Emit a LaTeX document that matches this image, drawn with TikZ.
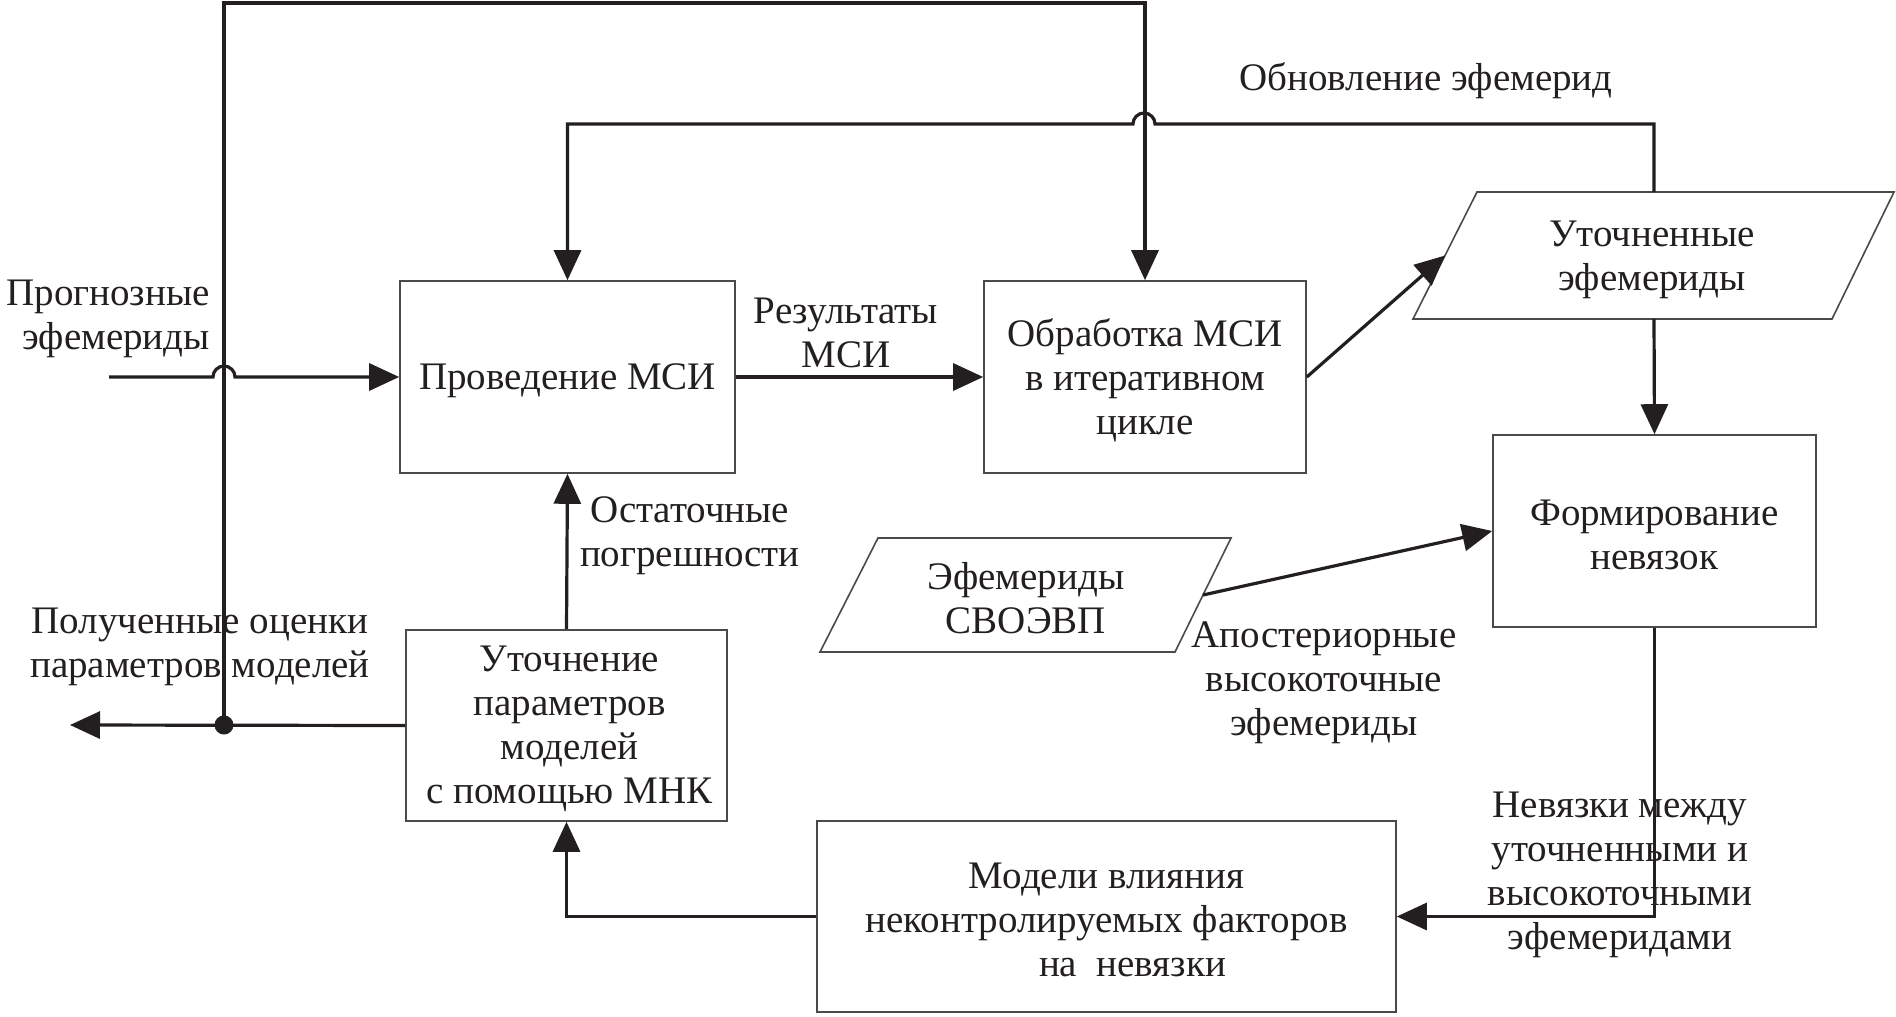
\documentclass[tikz,border=0pt]{standalone}
\usepackage{fontspec}
\setmainfont{Liberation Serif}
\usetikzlibrary{arrows.meta,calc}
\definecolor{ink}{HTML}{231F20}
\definecolor{boxgray}{HTML}{4A4A4A}
\newcommand\fsz{\fontsize{39pt}{44pt}\selectfont}
\tikzset{
  box/.style={draw=boxgray, line width=1.6pt, inner sep=0pt},
  para/.style={draw=boxgray, line width=1.6pt},
  wire/.style={line width=3.2pt, draw=ink},
  arr/.style={wire, -{Triangle[length=30pt,width=27pt]}},
  lbl/.style={align=center, font=\fsz, text=ink, inner sep=0pt, yshift=-3.5pt},
}
\begin{document}
\begin{tikzpicture}[x=1pt,y=-1pt]
\useasboundingbox (0,0) rectangle (1896,1017);
% boxes
\node[box, minimum width=335pt, minimum height=192pt, label={[lbl]center:{Проведение МСИ}}] (b1) at (567.5,377) {};
\node[box, minimum width=322pt, minimum height=192pt, label={[lbl]center:{Обработка МСИ\\в итеративном\\цикле}}] (b2) at (1145,377) {};
\node[box, minimum width=323pt, minimum height=192pt, label={[lbl]center:{Формирование\\невязок}}] (b3) at (1654.5,531) {};
\node[box, minimum width=321pt, minimum height=191pt, label={[lbl,xshift=3pt]center:{Уточнение\\параметров\\моделей\\с помощью МНК}}] (b4) at (566.5,725.5) {};
\node[box, minimum width=579pt, minimum height=191pt, label={[lbl]center:{Модели влияния\\неконтролируемых факторов\\\hspace*{52pt}на\ \ невязки}}] (b5) at (1106.5,916.5) {};
% parallelograms
\coordinate (p1tl) at (1477,192); \coordinate (p1tr) at (1894,192);
\coordinate (p1br) at (1832,319); \coordinate (p1bl) at (1413,319);
\draw[para] (p1tl) -- (p1tr) -- (p1br) -- (p1bl) -- cycle;
\node[lbl] (p1) at (1652,256.5) {Уточненные\\эфемериды};
\coordinate (p1left) at ($(p1tl)!0.5!(p1bl)$);
\coordinate (p1top) at (1654,192);
\coordinate (p1bot) at (1654,319);
\coordinate (p2tl) at (878,538); \coordinate (p2tr) at (1231,538);
\coordinate (p2br) at (1175,652); \coordinate (p2bl) at (820,652);
\draw[para] (p2tl) -- (p2tr) -- (p2br) -- (p2bl) -- cycle;
\node[lbl] (p2) at (1026,595) {Эфемериды\\СВОЭВП};
\coordinate (p2right) at ($(p2tr)!0.5!(p2br)$);
% connectors
\coordinate (dot) at (224,725);
\coordinate (inl) at (109,377);
\coordinate (outl) at (70,725);
\draw[arr] (inl) -- (213,377) arc[start angle=180,end angle=0,radius=11pt] -- (b1.west);
\draw[arr] (b1.east) -- (b2.west);
\draw[arr] (dot) -- (224,3) -- (1145,3) -- (b2.north);
\draw[arr] (p1top) -- (1654,124) -- (1155,124) arc[start angle=0,end angle=180,radius=11pt] -- (567.5,124) -- (b1.north);
\draw[arr] (b2.east) -- (p1left);
\draw[arr] (p1bot) -- (b3.north);
\draw[arr] (p2right) -- (b3.west);
\draw[arr] (b3.south) -- (1654.5,916.5) -- (b5.east);
\draw[arr] (b5.west) -- (566.5,916.5) -- (b4.south);
\draw[arr] (b4.north) -- (b1.south);
\draw[arr] (b4.west) -- (outl);
\fill[ink] (dot) circle[radius=9.5pt];
% labels
\node[lbl, align=right, anchor=east] (lin) at (210,315.5) {Прогнозные\\эфемериды};
\node[lbl] (lres) at (846,329) {Результаты\\МСИ};
\node[lbl] (lupd) at (1426,77) {Обновление эфемерид};
\node[lbl] (lost) at (690,532) {Остаточные\\погрешности};
\node[lbl] (lout) at (200,643.5) {Полученные оценки\\параметров моделей};
\node[lbl] (lapo) at (1324,679) {Апостериорные\\высокоточные\\эфемериды};
\node[lbl] (lnev) at (1620,871) {Невязки между\\уточненными и\\высокоточными\\эфемеридами};
\end{tikzpicture}
\end{document}
